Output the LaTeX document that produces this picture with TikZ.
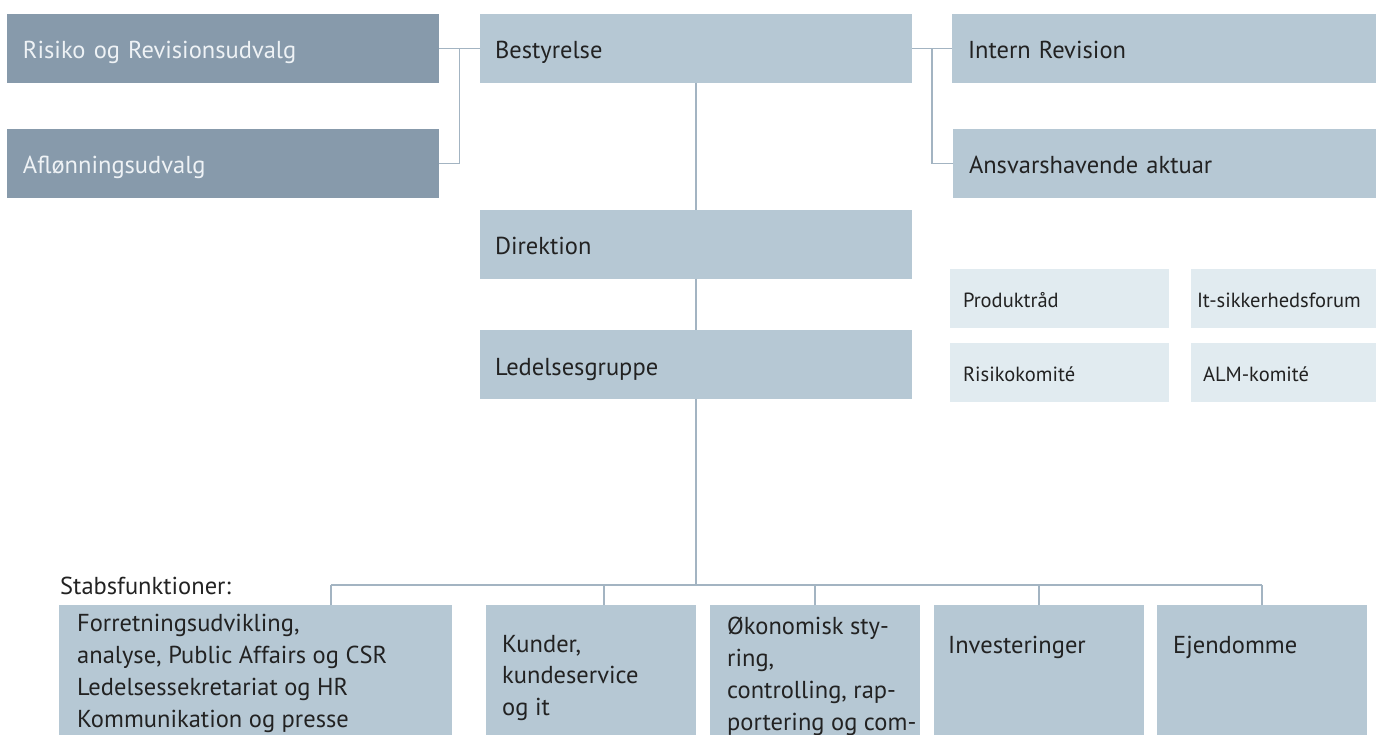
\documentclass[tikz,border=0pt]{standalone}
\usepackage{fontspec}
\setmainfont{PT Sans}
\usetikzlibrary{calc}
\definecolor{darkbox}{HTML}{879AAB}
\definecolor{midbox}{HTML}{B6C8D4}
\definecolor{lightbox}{HTML}{E1EBF0}
\definecolor{connc}{HTML}{A3B4C2}
\definecolor{txt}{HTML}{222222}
\definecolor{txtlight}{HTML}{EEF2F5}
\begin{document}
\begin{tikzpicture}[x=1pt,y=-1pt,
  orgbox/.style={rectangle, anchor=north west, inner ysep=0pt, outer sep=0pt,
    align=left, text height=26pt, text depth=5pt, font=\fontsize{24.5}{28}\selectfont},
  darkorg/.style={orgbox, fill=darkbox, text=txtlight, inner xsep=16pt, minimum height=69pt, text width=400pt},
  midorg/.style={orgbox, fill=midbox, text=txt, inner xsep=15pt, minimum height=69pt},
  smallorg/.style={orgbox, fill=lightbox, text=txt, minimum height=59pt,
    text height=22pt, text depth=4pt, font=\fontsize{20.5}{24}\selectfont},
  lowbox/.style={rectangle, anchor=north west, fill=midbox, inner sep=0pt, outer sep=0pt,
    minimum width=210pt, minimum height=160pt},
  lowtext/.style={anchor=base west, inner sep=0pt, text=txt, align=left},
  link/.style={draw=connc, line width=1.5pt}]
\useasboundingbox (0,0) rectangle (1376,735);
\clip (0,0) rectangle (1376,735);

% top left committees
\node[darkorg] (ris) at (7,14) {Risiko og Revisionsudvalg};
\node[darkorg] (afl) at (7,129) {Aflønningsudvalg};

% main column
\node[midorg, text width=402pt] (best) at (480,14) {Bestyrelse};
\node[midorg, text width=402pt] (dir) at (480,210) {Direktion};
\node[midorg, text width=402pt] (led) at (480,330) {Ledelsesgruppe};

% right
\node[midorg, inner xsep=16pt, text width=392pt] (intrev) at (952,14) {Intern Revision};
\node[midorg, inner xsep=16pt, text width=391pt] (ansv) at (953,129) {Ansvarshavende aktuar};

% small forums
\node[smallorg, inner xsep=13pt, text width=193pt] (prod) at (950,269) {Produktråd};
\node[smallorg, inner xsep=6pt, text width=173pt] (itsik) at (1191,269) {It-sikkerhedsforum};
\node[smallorg, inner xsep=13pt, text width=193pt] (risk) at (950,343) {Risikokomité};
\node[smallorg, inner xsep=12pt, text width=161pt] (alm) at (1191,343) {ALM-komité};

% bottom boxes
\node[lowbox, minimum width=393pt] (b1) at (59,605) {};
\node[lowbox] (b2) at (486,605) {};
\node[lowbox] (b3) at (710,605) {};
\node[lowbox] (b4) at (934,605) {};
\node[lowbox] (b5) at (1157,605) {};

\begin{scope}[font=\fontsize{24.5}{31.7}\selectfont]
\node[lowtext] (stabs) at (60,594) {Stabsfunktioner:};
\node[lowtext] (t1) at (77,727) {Forretningsudvikling,\\analyse, Public Affairs og CSR\\Ledelsessekretariat og HR\\Kommunikation og presse};
\node[lowtext, font=\fontsize{24.5}{31.5}\selectfont] (t2) at (502,715) {Kunder,\\kundeservice\\og it};
\node[lowtext, font=\fontsize{24.5}{32}\selectfont] (t3) at (727,730) {Økonomisk sty-\\ring,\\controlling, rap-\\portering og com-};
\node[lowtext] (t4) at (948,653) {Investeringer};
\node[lowtext] (t5) at (1173,653) {Ejendomme};
\end{scope}

% connectors
\coordinate (jl) at ($(ris.east)!0.5!(best.west)$);
\coordinate (jr) at ($(best.east)!0.5!(intrev.west)$);
\draw[link] (ris.east) -- (best.west);
\draw[link] (afl.east) -| (jl);
\draw[link] (best.east) -- (intrev.west);
\draw[link] (ansv.west) -| (jr);
\draw[link] (best.south) -- (dir.north);
\draw[link] (dir.south) -- (led.north);

\coordinate (bus) at ($(led.south)+(0,186)$);
\coordinate (d1) at ($(b1.north west)+(272,0)$);
\coordinate (d2) at ($(b2.north west)+(118,0)$);
\draw[link] (led.south) -- (led.south |- bus);
\draw[link] (d1 |- bus) -- (b5.north |- bus);
\draw[link] (d1) -- (d1 |- bus);
\draw[link] (d2) -- (d2 |- bus);
\draw[link] (b3.north) -- (b3.north |- bus);
\draw[link] (b4.north) -- (b4.north |- bus);
\draw[link] (b5.north) -- (b5.north |- bus);
\end{tikzpicture}
\end{document}
